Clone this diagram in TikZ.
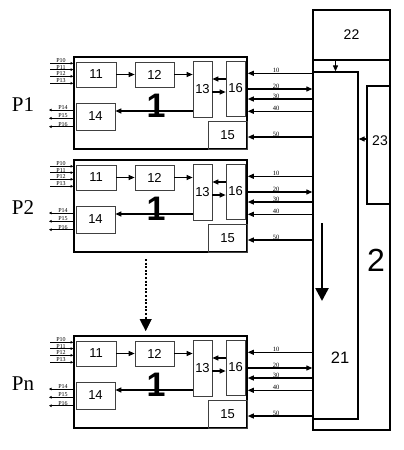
\documentclass[tikz,border=0pt]{standalone}
\usepackage{fontspec}
\setmainfont{Liberation Serif}
\newfontfamily\sansf{Liberation Sans}
\usetikzlibrary{arrows.meta,calc}
\begin{document}
\begin{tikzpicture}[x=1pt,y=-1pt,
  modbox/.style={draw, line width=1.6pt, inner sep=0pt},
  ibox/.style={draw=black!75, line width=0.7pt, inner sep=0pt, font=\sansf\fontsize{13}{15}\selectfont},
  bigbox/.style={draw, line width=1.3pt, inner sep=0pt, font=\sansf\fontsize{14}{16}\selectfont},
  arr/.style={line width=1.1pt, -{Triangle[length=6pt,width=5pt]}},
  pinarr/.style={line width=0.6pt, -{Triangle[length=2.5pt,width=2.5pt]}},
  tiny/.style={font=\fontsize{6}{6}\selectfont, inner sep=0.4pt, anchor=south},
  conlab/.style={font=\fontsize{6.5}{6.5}\selectfont, inner sep=0.6pt, anchor=south},
  plab/.style={font=\fontsize{21}{22}\selectfont, inner sep=0pt},
  one/.style={font=\sansf\bfseries\fontsize{34}{36}\selectfont, inner sep=0pt}
]
\useasboundingbox (0,0) rectangle (404,450);
\fill[white] (0,0) rectangle (404,450);

% right-hand block 2
\node[bigbox, minimum width=77pt, minimum height=420pt] (b2) at (351.5,220) {};
\node[bigbox, minimum width=77pt, minimum height=50pt] (b22) at (351.5,35) {22};
\node[bigbox, minimum width=45pt, minimum height=347pt] (b21) at (335.5,245.5) {};
\node[bigbox, minimum width=23pt, minimum height=118pt] (b23) at (378.5,145) {};
\node[font=\sansf\fontsize{14}{16}\selectfont, inner sep=0pt] (t23) at (380,141) {23};
\node[font=\sansf\fontsize{16.5}{18}\selectfont, inner sep=0pt] (t21) at (340,358) {21};
\node[font=\sansf\fontsize{32}{34}\selectfont, inner sep=0pt] (t2) at (376,260) {2};
\draw[arr] (b21.north |- b22.south) -- (b21.north);
\draw[arr] (b23.west |- 0,139) -- (b21.east |- 0,139);
\coordinate (bigA) at (322,223);
\coordinate (bigB) at (322,301);
\draw[line width=2.6pt, -{Triangle[length=13pt,width=13pt]}] (bigA) -- (bigB);

% modules
\foreach \i/\t/\lab in {1/57/P1, 2/160/P2, n/336/Pn}{
  \begin{scope}[shift={(0,\t)}]
    \node[modbox, minimum width=173pt, minimum height=92pt] (m\i) at (160.5,46) {};
    \node[ibox, minimum width=40pt, minimum height=25pt] (m\i-11) at (96,17.5) {11};
    \node[ibox, minimum width=39pt, minimum height=25pt] (m\i-12) at (154.5,17.5) {12};
    \node[ibox, minimum width=19pt, minimum height=56pt] (m\i-13) at (202.5,32) {13};
    \node[ibox, minimum width=19pt, minimum height=55pt] (m\i-16) at (235.5,31.5) {16};
    \node[ibox, minimum width=39pt, minimum height=28pt] (m\i-15) at (227.5,78) {15};
    \node[ibox, minimum width=39pt, minimum height=27pt] (m\i-14) at (95.5,59.5) {14};
    \node[one] (m\i-one) at (156,49) {1};
    \node[plab] (m\i-lab) at (23,48) {\lab};
    \draw[arr] (m\i-11.east) -- (m\i-12.west);
    \draw[arr] (m\i-12.east) -- (m\i-12.east -| m\i-13.west);
    \draw[arr] (m\i-16.west |- 0,22) -- (m\i-13.east |- 0,22);
    \draw[arr] (m\i-13.east |- 0,35) -- (m\i-16.west |- 0,35);
    \draw[arr] (m\i-13.west |- 0,54) -- (m\i-14.east |- 0,54);
    % input pins
    \foreach \y/\n in {6.3/P10, 12.6/P11, 19.3/P12, 26.3/P13}{
      \coordinate (m\i-\n) at (50,\y);
      \draw[pinarr] (m\i-\n) -- (m\i.west |- 0,\y);
      \node[tiny] at (61,\y) {\n};
    }
    % output pins
    \foreach \y/\n in {53/P14, 61.3/P15, 69.7/P16}{
      \coordinate (m\i-\n) at (49,\y);
      \draw[pinarr] (m\i.west |- 0,\y) -- (m\i-\n);
      \node[tiny] at (63,\y) {\n};
    }
    % connectors to block 21
    \foreach \y/\n in {16.3/10, 42/30, 54.3/40, 80/50}{
      \draw[arr] (b21.west |- 0,\y) -- (m\i.east |- 0,\y);
      \node[conlab] at (276,\y) {\n};
    }
    \draw[arr] (m\i.east |- 0,32) -- (b21.west |- 0,32);
    \node[conlab] at (276,32) {20};
  \end{scope}
}

% dotted arrow between P2 and Pn
\coordinate (dA) at (145.7,259);
\coordinate (dB) at (145.7,331);
\draw[line width=2.4pt, dash pattern=on 2pt off 1.6pt] (dA) -- ($(dB)+(0,-11)$);
\draw[line width=0.1pt, fill=black, -{Triangle[length=12pt,width=12pt]}] ($(dB)+(0,-11.5)$) -- (dB);
\end{tikzpicture}
\end{document}
